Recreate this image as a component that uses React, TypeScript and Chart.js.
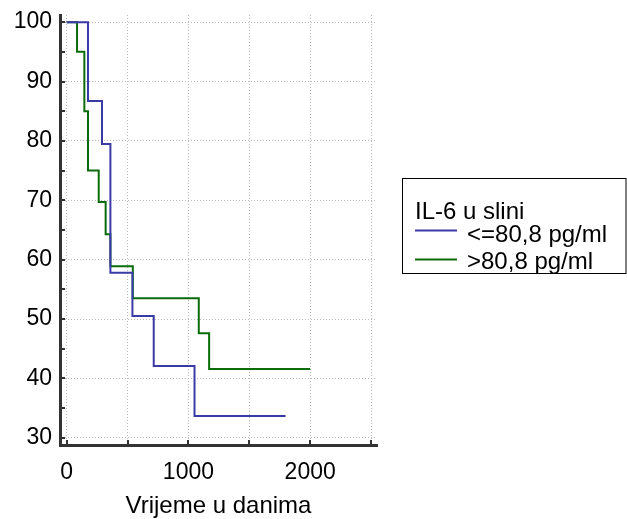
import React, { useEffect, useRef } from "react";
import { Chart, registerables } from "chart.js";

Chart.register(...registerables);

const legendTitle = "IL-6 u slini";
const seriesNames = ["<=80,8 pg/ml", ">80,8 pg/ml"];
const seriesColors = ["#3a3aa6", "#0b6b0b"];

const lowTimes = [0, 175, 290, 359, 540, 715, 1050, 1798];
const lowSurvival = [100, 86.7, 79.5, 57.8, 50.5, 42.1, 33.7, 33.7];

const highTimes = [0, 85, 145, 175, 263, 320, 359, 543, 1085, 1170, 2000];
const highSurvival = [100, 95, 85, 75, 69.7, 64.3, 58.9, 53.5, 47.6, 41.6, 41.6];

const xTitle = "Vrijeme u danima";
const xTickValues = [0, 500, 1000, 1500, 2000, 2500];
const xLabelValues = [0, 1000, 2000];
const yTickValues = [30, 40, 50, 60, 70, 80, 90, 100];
const yMinorTickValues = [30, 35, 40, 45, 50, 55, 60, 65, 70, 75, 80, 85, 90, 95, 100];

const FONT = "'Liberation Sans', Arial, sans-serif";
const AXIS_COLOR = "#333333";

const minorTicksPlugin = {
  id: "minorTicks",
  afterDraw(chart: any) {
    const { ctx, chartArea, scales } = chart;
    ctx.save();
    ctx.strokeStyle = AXIS_COLOR;
    ctx.lineWidth = 2;
    for (const v of yMinorTickValues) {
      const y = Math.round(scales.y.getPixelForValue(v));
      ctx.beginPath();
      ctx.moveTo(chartArea.left, y);
      ctx.lineTo(chartArea.left + 5, y);
      ctx.stroke();
    }
    for (const v of xTickValues) {
      const x = Math.round(scales.x.getPixelForValue(v));
      ctx.beginPath();
      ctx.moveTo(x, chartArea.bottom);
      ctx.lineTo(x, chartArea.bottom - 5);
      ctx.stroke();
    }
    ctx.restore();
  },
};

const legendBoxPlugin = {
  id: "legendBox",
  afterDraw(chart: any) {
    const { ctx } = chart;
    ctx.save();
    ctx.strokeStyle = "#000000";
    ctx.lineWidth = 1;
    ctx.strokeRect(402.5, 178.5, 223.5, 95);
    ctx.fillStyle = "#000000";
    ctx.font = `24px ${FONT}`;
    ctx.textBaseline = "alphabetic";
    ctx.textAlign = "left";
    ctx.fillText(legendTitle, 415, 219);
    const rows = [230.5, 259.5];
    const baselines = [242, 269];
    chart.data.datasets.forEach((ds: any, i: number) => {
      ctx.strokeStyle = ds.borderColor;
      ctx.lineWidth = 2;
      ctx.beginPath();
      ctx.moveTo(415, rows[i]);
      ctx.lineTo(457, rows[i]);
      ctx.stroke();
      ctx.fillStyle = "#000000";
      ctx.fillText(ds.label, 467, baselines[i]);
    });
    ctx.restore();
  },
};

export default function App() {
  const ref = useRef<HTMLCanvasElement | null>(null);
  useEffect(() => {
    if (!ref.current) return;
    const toPts = (xs: number[], ys: number[]) => xs.map((x, i) => ({ x, y: ys[i] }));
    const chart = new Chart(ref.current, {
      type: "line",
      data: {
        datasets: [
          {
            label: seriesNames[0],
            data: toPts(lowTimes, lowSurvival),
            borderColor: seriesColors[0],
            borderWidth: 2,
            pointRadius: 0,
            stepped: "before",
            fill: false,
          },
          {
            label: seriesNames[1],
            data: toPts(highTimes, highSurvival),
            borderColor: seriesColors[1],
            borderWidth: 2,
            pointRadius: 0,
            stepped: "before",
            fill: false,
          },
        ],
      },
      options: {
        animation: false,
        responsive: false,
        layout: { padding: { top: 15, right: 250, left: 0, bottom: 0 } },
        plugins: {
          legend: { display: false },
          tooltip: { enabled: false },
        },
        scales: {
          x: {
            type: "linear",
            min: -55,
            max: 2549,
            afterBuildTicks(scale: any) {
              scale.ticks = xTickValues.map((v) => ({ value: v }));
            },
            afterFit(scale: any) {
              scale.height = 74;
              scale.paddingLeft = 0;
              scale.paddingRight = 0;
            },
            grid: { color: "#b8b8b8", lineWidth: 1, drawTicks: false },
            border: { display: true, color: AXIS_COLOR, width: 3, dash: [1, 2] },
            ticks: {
              autoSkip: false,
              maxRotation: 0,
              padding: 14,
              color: "#000000",
              font: { family: FONT, size: 23 },
              callback: (v: any) => (xLabelValues.includes(Number(v)) ? String(v) : ""),
            },
            title: {
              display: true,
              text: xTitle,
              color: "#000000",
              font: { family: FONT, size: 24 },
              padding: { top: 0, bottom: -2 },
            },
          },
          y: {
            type: "linear",
            min: 28.8,
            max: 101.2,
            afterBuildTicks(scale: any) {
              scale.ticks = yTickValues.map((v) => ({ value: v }));
            },
            afterFit(scale: any) {
              scale.width = 60;
              scale.paddingTop = 0;
              scale.paddingBottom = 0;
            },
            grid: { color: "#b8b8b8", lineWidth: 1, drawTicks: false },
            border: { display: true, color: AXIS_COLOR, width: 3, dash: [1, 2] },
            ticks: {
              autoSkip: false,
              padding: 8,
              color: "#000000",
              font: { family: FONT, size: 23 },
              callback: (v: any) => String(v),
            },
          },
        },
      },
      plugins: [minorTicksPlugin, legendBoxPlugin],
    });
    return () => chart.destroy();
  }, []);
  return (
    <div style={{ position: "absolute", left: 0, top: 0, width: 627, height: 519, background: "#ffffff" }}>
      <canvas ref={ref} width={627} height={519} />
    </div>
  );
}
